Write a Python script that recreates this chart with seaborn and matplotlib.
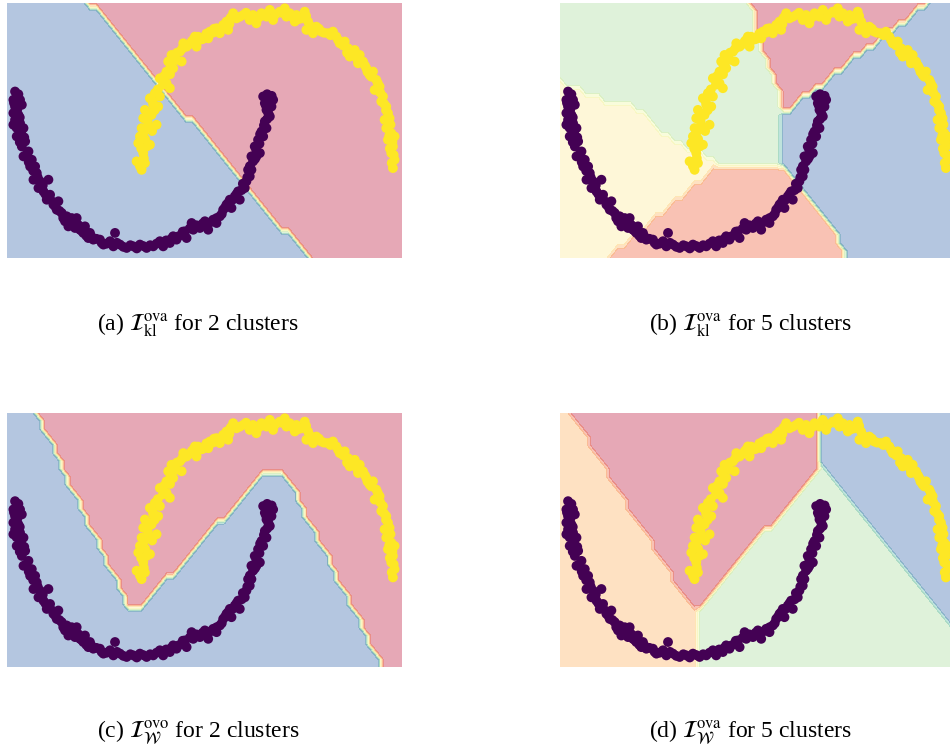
import numpy as np
import matplotlib
matplotlib.use("Agg")
import matplotlib.pyplot as plt
from matplotlib.path import Path
import seaborn as sns
import pandas as pd

# ---------------- data: the two moons ----------------
purple_moon = [
    (-0.977, -0.023), (-0.964, -0.054), (-0.990, -0.075), (-0.938, -0.075), (-0.977, -0.117),
    (-0.924, -0.106), (-0.990, -0.158), (-0.951, -0.169), (-0.977, -0.200), (-0.938, -0.221),
    (-0.990, -0.231), (-0.911, -0.252), (-0.964, -0.304), (-0.898, -0.335), (-0.924, -0.367),
    (-0.872, -0.398), (-0.911, -0.429), (-0.846, -0.450), (-0.859, -0.492), (-0.820, -0.492),
    (-0.807, -0.533), (-0.833, -0.575), (-0.781, -0.585), (-0.716, -0.575), (-0.794, -0.627),
    (-0.755, -0.648), (-0.703, -0.669), (-0.729, -0.700), (-0.677, -0.731), (-0.638, -0.710),
    (-0.651, -0.763), (-0.612, -0.783), (-0.573, -0.804), (-0.586, -0.835), (-0.534, -0.815),
    (-0.495, -0.815), (-0.560, -0.867), (-0.508, -0.877), (-0.469, -0.888), (-0.430, -0.867),
    (-0.443, -0.908), (-0.391, -0.908), (-0.404, -0.940), (-0.365, -0.950), (-0.313, -0.950),
    (-0.286, -0.981), (-0.234, -0.960), (-0.195, -0.908), (-0.208, -0.992), (-0.156, -0.981),
    (-0.104, -1.002), (-0.052, -0.992), (0.000, -0.981), (0.052, -1.002), (0.104, -0.992),
    (0.156, -0.960), (0.182, -0.992), (0.234, -0.971), (0.260, -0.929), (0.286, -0.950),
    (0.326, -0.919), (0.352, -0.898), (0.365, -0.940), (0.404, -0.846), (0.417, -0.888),
    (0.469, -0.877), (0.508, -0.835), (0.534, -0.888), (0.573, -0.825), (0.599, -0.846),
    (0.625, -0.804), (0.651, -0.763), (0.677, -0.731), (0.703, -0.700), (0.716, -0.752),
    (0.742, -0.679), (0.768, -0.648), (0.781, -0.700), (0.820, -0.627), (0.833, -0.585),
    (0.859, -0.554), (0.872, -0.513), (0.846, -0.513), (0.885, -0.460), (0.911, -0.429),
    (0.872, -0.429), (0.938, -0.408), (0.898, -0.367), (0.924, -0.325), (0.964, -0.304),
    (0.951, -0.273), (0.990, -0.252), (0.977, -0.210), (1.016, -0.179), (0.990, -0.138),
    (1.029, -0.117), (0.977, -0.096), (1.016, -0.065), (0.964, -0.054), (1.042, -0.075),
    (-0.951, -0.040), (-0.985, -0.095), (-0.960, -0.135), (-0.940, -0.185), (-0.965, -0.250),
    (-0.930, -0.280), (-0.905, -0.310), (-0.940, -0.340), (-0.890, -0.420), (-0.870, -0.465),
    (-0.835, -0.520), (-0.800, -0.560), (-0.760, -0.610), (-0.740, -0.665), (-0.700, -0.700),
    (-0.660, -0.745), (-0.630, -0.770), (-0.600, -0.815), (-0.545, -0.845), (-0.520, -0.860),
    (-0.480, -0.860), (-0.455, -0.895), (-0.420, -0.925), (-0.380, -0.930), (-0.340, -0.945),
    (-0.300, -0.970), (-0.260, -0.975), (-0.180, -0.970), (-0.130, -0.995), (-0.075, -0.985),
    (-0.025, -1.005), (0.025, -0.990), (0.080, -0.985), (0.130, -0.975), (0.205, -0.955),
    (0.245, -0.945), (0.300, -0.930), (0.335, -0.900), (0.390, -0.880), (0.440, -0.860),
    (0.490, -0.850), (0.555, -0.840), (0.600, -0.815), (0.640, -0.790), (0.665, -0.750),
    (0.690, -0.720), (0.725, -0.700), (0.755, -0.665), (0.795, -0.640), (0.805, -0.600),
    (0.840, -0.560), (0.860, -0.490), (0.900, -0.445), (0.910, -0.390), (0.935, -0.350),
    (0.940, -0.290), (0.970, -0.235), (0.995, -0.195), (1.005, -0.160), (0.985, -0.110),
    (1.030, -0.050), (0.995, -0.040),
]
yellow_moon = [
    (0.013, -0.513), (-0.026, -0.460), (0.039, -0.471), (0.026, -0.408), (-0.013, -0.346),
    (0.052, -0.367), (0.000, -0.304), (0.078, -0.356), (0.013, -0.252), (0.065, -0.242),
    (0.130, -0.231), (0.026, -0.190), (0.091, -0.169), (0.039, -0.138), (0.143, -0.117),
    (0.104, -0.106), (0.078, -0.065), (0.156, -0.054), (0.117, -0.033), (0.156, 0.060),
    (0.208, 0.029), (0.234, -0.002), (0.208, 0.102), (0.260, 0.123), (0.221, 0.165),
    (0.286, 0.175), (0.247, 0.206), (0.326, 0.165), (0.313, 0.227), (0.365, 0.258),
    (0.339, 0.279), (0.404, 0.290), (0.443, 0.258), (0.469, 0.300), (0.430, 0.321),
    (0.508, 0.321), (0.547, 0.352), (0.534, 0.310), (0.599, 0.373), (0.625, 0.342),
    (0.651, 0.394), (0.690, 0.363), (0.677, 0.415), (0.729, 0.467), (0.755, 0.435),
    (0.807, 0.456), (0.859, 0.425), (0.885, 0.456), (0.911, 0.404), (0.951, 0.467),
    (0.990, 0.446), (1.016, 0.488), (1.042, 0.425), (1.094, 0.477), (1.133, 0.498),
    (1.146, 0.446), (1.172, 0.467), (1.211, 0.415), (1.224, 0.456), (1.263, 0.435),
    (1.289, 0.477), (1.315, 0.415), (1.302, 0.363), (1.354, 0.342), (1.380, 0.383),
    (1.419, 0.352), (1.471, 0.342), (1.510, 0.352), (1.536, 0.321), (1.563, 0.279),
    (1.602, 0.290), (1.628, 0.248), (1.641, 0.196), (1.680, 0.237), (1.719, 0.206),
    (1.706, 0.154), (1.745, 0.165), (1.771, 0.123), (1.797, 0.081), (1.823, 0.102),
    (1.849, 0.050), (1.836, -0.013), (1.875, 0.008), (1.901, -0.054), (1.888, -0.085),
    (1.927, -0.117), (1.940, -0.158), (1.914, -0.200), (1.953, -0.190), (1.927, -0.252),
    (1.966, -0.283), (1.940, -0.325), (1.992, -0.304), (1.979, -0.367), (1.966, -0.408),
    (1.992, -0.450), (1.979, -0.502),
    (0.000, -0.490), (0.030, -0.440), (0.010, -0.380), (0.040, -0.320), (0.030, -0.275),
    (0.095, -0.270), (0.060, -0.210), (0.070, -0.160), (0.115, -0.140), (0.100, -0.085),
    (0.140, -0.010), (0.180, 0.020), (0.190, 0.075), (0.235, 0.085), (0.240, 0.140),
    (0.270, 0.190), (0.290, 0.220), (0.330, 0.245), (0.380, 0.270), (0.415, 0.300),
    (0.455, 0.320), (0.490, 0.305), (0.520, 0.340), (0.570, 0.345), (0.580, 0.370),
    (0.640, 0.375), (0.700, 0.400), (0.710, 0.440), (0.780, 0.445), (0.830, 0.470),
    (0.870, 0.440), (0.930, 0.440), (0.970, 0.460), (1.060, 0.460), (1.110, 0.470),
    (1.190, 0.445), (1.240, 0.430), (1.300, 0.450), (1.330, 0.390), (1.400, 0.370),
    (1.440, 0.345), (1.490, 0.330), (1.550, 0.300), (1.590, 0.265), (1.620, 0.220),
    (1.660, 0.210), (1.700, 0.180), (1.760, 0.140), (1.780, 0.100), (1.810, 0.070),
    (1.860, 0.030), (1.880, -0.030), (1.910, -0.100), (1.925, -0.140), (1.960, -0.230),
    (1.950, -0.300), (1.975, -0.340), (1.955, -0.380), (1.985, -0.420), (1.970, -0.470),
]

# ---------------- cluster regions (boundaries) ----------------
# position of each cluster colour on the Spectral colormap
PINK, SALMON, PEACH, CREAM, GREEN, BLUE = 0.0625, 0.1875, 0.3125, 0.4375, 0.6875, 0.9375

# (a) KL ova, 2 clusters
a_default = BLUE
a_regions = [
    (PINK, [(-0.682, 0.8), (2.3, 0.8), (2.3, -1.3), (1.571, -1.3)]),
]
# (b) KL ova, 5 clusters
b_default = BLUE
b_regions = [
    (PINK, [(0.43, 0.8), (0.445, 0.55), (0.484, 0.383), (0.536, 0.258), (0.628, 0.071),
            (0.719, -0.148), (1.865, 0.55), (2.275, 0.8)]),
    (GREEN, [(-1.3, 0.8), (0.43, 0.8), (0.445, 0.55), (0.484, 0.383), (0.536, 0.258),
             (0.628, 0.071), (0.719, -0.148), (0.680, -0.169), (0.693, -0.492),
             (0.198, -0.481), (0.068, -0.408), (-0.089, -0.356), (-0.297, -0.242),
             (-0.479, -0.096), (-0.779, -0.065), (-1.078, 0.060), (-1.3, 0.1)]),
    (SALMON, [(0.198, -0.481), (0.693, -0.492), (0.797, -0.585), (0.927, -0.72),
              (1.109, -0.908), (1.305, -1.3), (-1.025, -1.3)]),
    (CREAM, [(-1.3, 0.1), (-1.078, 0.060), (-0.779, -0.065), (-0.479, -0.096),
             (-0.297, -0.242), (-0.089, -0.356), (0.068, -0.408), (0.198, -0.481),
             (-1.025, -1.3), (-1.3, -1.3)]),
]
# (c) Wasserstein ovo, 2 clusters
c_default = BLUE
c_regions = [
    (PINK, [(-0.967, 0.8), (-0.094, -0.681), (0.023, -0.681), (1.00, 0.175), (1.12, 0.175),
            (1.98, -1.2), (1.99, -1.3), (2.3, -1.3), (2.3, 0.8)]),
]
# (d) Wasserstein ova, 5 clusters
d_default = PEACH
d_regions = [
    (PINK, [(-1.16, 0.8), (1.005, 0.8), (1.005, 0.196), (0.042, -0.70), (-0.02, -0.69),
            (-0.961, 0.55)]),
    (BLUE, [(1.005, 0.8), (2.6, 0.8), (2.6, -1.345), (1.005, 0.196)]),
    (GREEN, [(1.005, 0.196), (2.6, -1.345), (2.6, -1.4), (0.075, -1.4), (0.042, -0.70)]),
]

captions = [
    r"(a) $\mathcal{I}_{\mathrm{kl}}^{\mathrm{ova}}$ for 2 clusters",
    r"(b) $\mathcal{I}_{\mathrm{kl}}^{\mathrm{ova}}$ for 5 clusters",
    r"(c) $\mathcal{I}_{\mathcal{W}}^{\mathrm{ovo}}$ for 2 clusters",
    r"(d) $\mathcal{I}_{\mathcal{W}}^{\mathrm{ova}}$ for 5 clusters",
]

# ---------------- styling ----------------
sns.set_style("white")
plt.rcParams["font.family"] = ["Liberation Serif", "DejaVu Serif"]
plt.rcParams["mathtext.fontset"] = "stix"
plt.rcParams["text.color"] = "black"

df = pd.DataFrame(
    [(x, y, "purple") for x, y in purple_moon] + [(x, y, "yellow") for x, y in yellow_moon],
    columns=["x", "y", "moon"],
)
palette = {"purple": "#440154", "yellow": "#fde725"}

h = 0.05
gx = np.arange(-1.04, 2.09, h)
gy = np.arange(-1.07, 0.57, h)
xx, yy = np.meshgrid(gx, gy)
grid_pts = np.c_[xx.ravel(), yy.ravel()]

W, H = 950, 751
fig = plt.figure(figsize=(W / 100, H / 100), dpi=100)

# axes boxes in pixels: left, top, width, height
boxes = [(7, 0, 395, 258), (560, 0, 395, 258), (7, 410, 395, 257), (560, 410, 395, 257)]
caption_pos = [(198, 325), (750, 325), (198, 733), (750, 733)]
panels = [(a_default, a_regions), (b_default, b_regions), (c_default, c_regions), (d_default, d_regions)]

levels = np.linspace(0, 1, 9)
for (l, t, w, hh), (default, regions), cap, (cx, cy) in zip(boxes, panels, captions, caption_pos):
    ax = fig.add_axes([l / W, 1 - (t + hh) / H, w / W, hh / H])
    Z = np.full(len(grid_pts), default, dtype=float)
    for val, poly in regions:
        mask = Path(poly).contains_points(grid_pts)
        Z[mask] = val
    Z = Z.reshape(xx.shape)
    ax.contourf(xx, yy, Z, levels=levels, cmap="Spectral", alpha=0.4, vmin=0, vmax=1)
    sns.scatterplot(data=df, x="x", y="y", hue="moon", palette=palette, s=50,
                    linewidth=0, legend=False, ax=ax, zorder=3)
    ax.set_xlim(-1.04, 2.05)
    ax.set_ylim(-1.065, 0.55)
    ax.axis("off")
    fig.text(cx / W, 1 - cy / H, cap, ha="center", va="center", fontsize=17, color="black")

fig.savefig("out.png", dpi=100)
